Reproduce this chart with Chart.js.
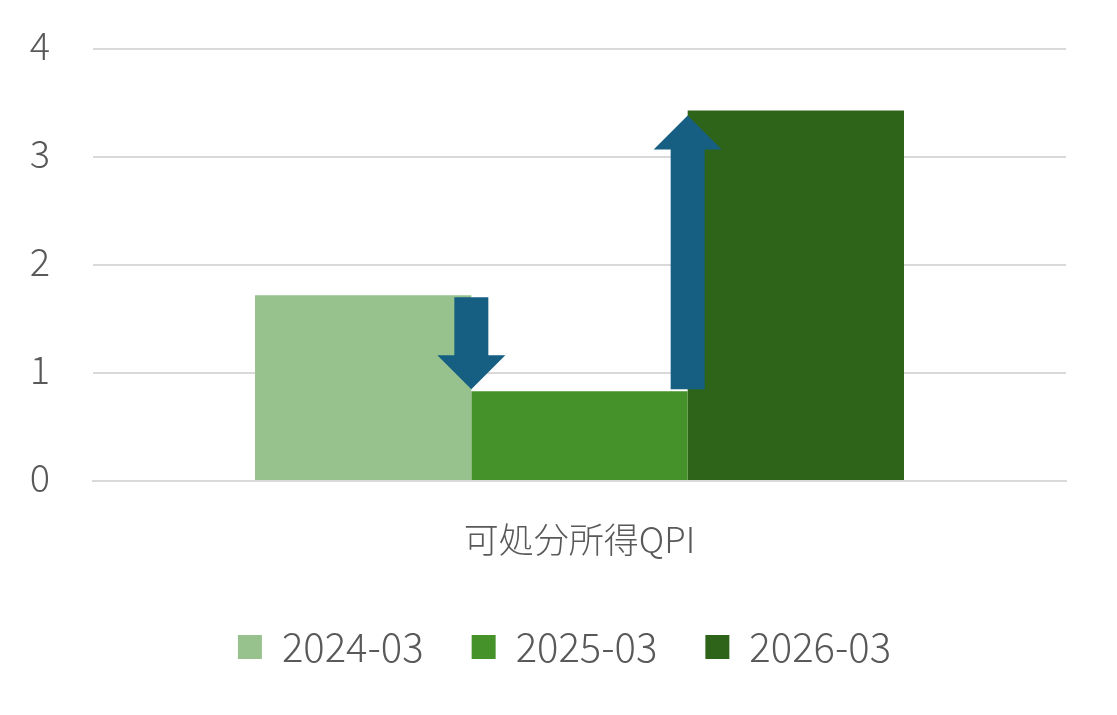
<!DOCTYPE html>
<html>
<head>
<meta charset="utf-8">
<script src="https://cdn.jsdelivr.net/npm/chart.js@4"></script>
<style>
  html, body { margin: 0; padding: 0; background: #fff; }
  #wrap { width: 1117px; height: 715px; }
</style>
</head>
<body>
<div id="wrap"><canvas id="chart"></canvas></div>
<script>
const categories = ['可処分所得QPI'];
const seriesLabels = ['2024-03', '2025-03', '2026-03'];
const seriesValues = [[1.72], [0.83], [3.43]];
const seriesColors = ['#97c28e', '#46922a', '#2e6419'];
const yTicks = [0, 1, 2, 3, 4];

const FONT = '"Noto Sans CJK JP", "Noto Sans", sans-serif';
const TEXT = '#595959';
const GRID = '#d9d9d9';
const ARROW = '#165f82';
const LEGEND_SHIFT = -15;

// arrows between neighbouring bars, pointing from one bar's top to the next
const arrowPlugin = {
  id: 'changeArrows',
  afterLayout(chart) {
    // the legend row sits a little left of the plot centre
    chart.legend.left += LEGEND_SHIFT;
    chart.legend.right += LEGEND_SHIFT;
  },
  afterDatasetsDraw(chart) {
    const { ctx } = chart;
    for (let i = 0; i < chart.data.datasets.length - 1; i++) {
      const a = chart.getDatasetMeta(i).data[0];
      const b = chart.getDatasetMeta(i + 1).data[0];
      if (!a || !b) continue;
      const x = a.x + a.width / 2;
      const yFrom = a.y;
      const yTo = b.y;
      const dir = yTo > yFrom ? 1 : -1;
      const shaft = 17, head = 34, headLen = 34;
      const tip = dir > 0 ? yTo - 2 : yTo + 5;
      const baseY = tip - dir * headLen;
      const start = dir > 0 ? yFrom + 2 : yFrom - 2;
      ctx.save();
      ctx.fillStyle = ARROW;
      ctx.beginPath();
      ctx.moveTo(x - shaft, start);
      ctx.lineTo(x + shaft, start);
      ctx.lineTo(x + shaft, baseY);
      ctx.lineTo(x + head, baseY);
      ctx.lineTo(x, tip);
      ctx.lineTo(x - head, baseY);
      ctx.lineTo(x - shaft, baseY);
      ctx.closePath();
      ctx.fill();
      ctx.restore();
    }
  },
};

const ctx = document.getElementById('chart').getContext('2d');
new Chart(ctx, {
  type: 'bar',
  data: {
    labels: categories,
    datasets: seriesLabels.map((label, i) => ({
      label,
      data: seriesValues[i],
      backgroundColor: seriesColors[i],
      borderWidth: 0,
      barPercentage: 1.0,
      categoryPercentage: 0.667,
    })),
  },
  options: {
    responsive: true,
    maintainAspectRatio: false,
    animation: false,
    layout: { padding: { top: 49, right: 51, bottom: 38, left: 0 } },
    plugins: {
      legend: {
        position: 'bottom',
        fullSize: false,
        labels: {
          font: { family: FONT, size: 40, weight: 300 },
          color: TEXT,
          boxWidth: 24,
          boxHeight: 24,
          padding: 48,
        },
      },
      tooltip: { enabled: false },
    },
    scales: {
      x: {
        afterFit: (scale) => { scale.height = 98; },
        grid: { display: false, drawTicks: false },
        border: { display: true, color: GRID, width: 2 },
        ticks: { font: { family: FONT, size: 35, weight: 300 }, color: TEXT, padding: 38 },
      },
      y: {
        min: yTicks[0],
        max: yTicks[yTicks.length - 1],
        afterBuildTicks: (scale) => { scale.ticks = yTicks.map((v) => ({ value: v })); },
        afterFit: (scale) => {
          scale.width = 93;
          scale.paddingTop = 0;
          scale.paddingBottom = 0;
        },
        grid: { color: GRID, lineWidth: 2, drawTicks: false },
        border: { display: false },
        ticks: { font: { family: FONT, size: 38, weight: 300 }, color: TEXT, padding: 43, labelOffset: -3 },
      },
    },
  },
  plugins: [arrowPlugin],
});
</script>
</body>
</html>
